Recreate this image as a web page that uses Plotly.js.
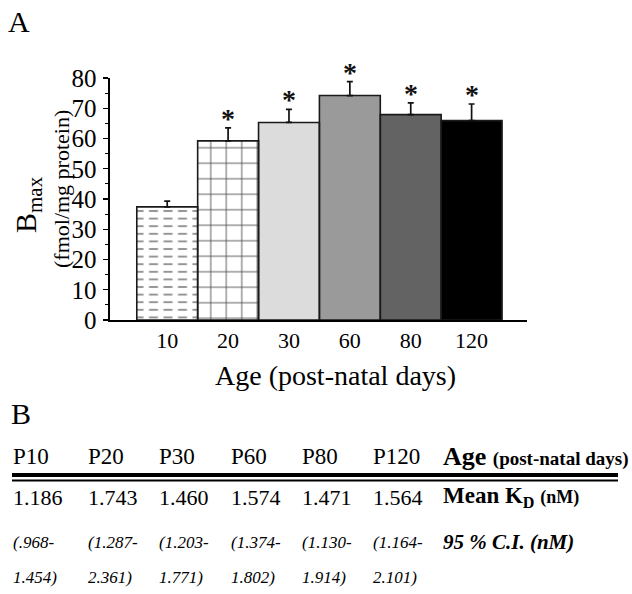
<!DOCTYPE html>
<html><head><meta charset="utf-8">
<script src="https://cdn.plot.ly/plotly-3.0.1.min.js"></script>
<style>html,body{margin:0;padding:0;background:#fff}#chart{width:632px;height:594px}</style>
</head><body><div id="chart"></div>
<script>
// ---- data ----
const ages = ['10', '20', '30', '60', '80', '120'];
const bmax = [37.4, 59.2, 65.3, 74.2, 67.9, 65.9];
const bmaxErr = [1.9, 4.3, 4.3, 4.6, 3.9, 5.5];
const significant = [false, true, true, true, true, true];
const tableAges = ['P10', 'P20', 'P30', 'P60', 'P80', 'P120'];
const meanKd = ['1.186', '1.743', '1.460', '1.574', '1.471', '1.564'];
const ciLow = ['.968', '1.287', '1.203', '1.374', '1.130', '1.164'];
const ciHigh = ['1.454', '2.361', '1.771', '1.802', '1.914', '2.101'];

// ---- styles ----
const FONT = 'Liberation Serif, Times New Roman, serif';
const fills = ['#ffffff', '#ffffff', '#dcdcdc', '#9a9a9a', '#636363', '#000000'];
const patterns = [
  { shape: '-', fgcolor: '#959595', size: 7.6, solidity: 0.26 },
  { shape: '+', fgcolor: '#4a4a4a', size: 15.5, solidity: 0.11 },
  null, null, null, null
];
const cutters = [
  { shape: '|', fgcolor: '#ffffff', bgcolor: 'rgba(0,0,0,0)', size: 14.5, solidity: 0.38 },
  null, null, null, null, null
];

// plot area in pixels: x 110..527, y 78..320
const L = 110, R = 527, T = 78, B = 320;
const PX = v => (v - L) / (R - L);
const PY = v => (B - v) / (B - T);

const traces = [];
ages.forEach((a, i) => {
  const m = { color: fills[i], line: { width: 0 } };
  if (patterns[i]) m.pattern = patterns[i];
  traces.push({ type: 'bar', x: [a], y: [bmax[i]], hoverinfo: 'skip', marker: m });
});
ages.forEach((a, i) => {
  if (cutters[i]) traces.push({ type: 'bar', x: [a], y: [bmax[i]], hoverinfo: 'skip',
    marker: { color: 'rgba(0,0,0,0)', line: { width: 0 }, pattern: cutters[i] } });
});
traces.push({ type: 'bar', x: ages, y: bmax, hoverinfo: 'skip',
  marker: { color: 'rgba(0,0,0,0)', line: { color: '#1a1a1a', width: 1.6 } },
  error_y: { type: 'data', symmetric: false, array: bmaxErr, arrayminus: bmaxErr.map(() => 0),
    color: '#111', thickness: 1.7, width: 3 } });

const ann = [];
ages.forEach((a, i) => {
  if (significant[i]) ann.push({ x: i, y: bmax[i] + bmaxErr[i], xref: 'x', yref: 'y', text: '<b>*</b>',
    showarrow: false, yanchor: 'bottom', font: { family: FONT, size: 28, color: '#111' }, yshift: -8 });
});
function txt(px, py, text, size, extra) {
  ann.push(Object.assign({ xref: 'paper', yref: 'paper', x: PX(px), y: PY(py), text: text,
    showarrow: false, xanchor: 'left', yanchor: 'middle',
    font: { family: FONT, size: size, color: '#000' } }, extra || {}));
}
// panel labels and axis titles
txt(6, 21, 'A', 30);
txt(9, 413, 'B', 30);
txt(28, 205, 'B<sub>max</sub>', 30, { xanchor: 'center', textangle: -90 });
txt(61, 189, '(fmol/mg protein)', 22, { xanchor: 'center', textangle: -90 });
txt(335, 375, 'Age (post-natal days)', 28, { xanchor: 'center' });

// table B
const colX = [11, 86, 157, 229, 300, 371];
const labX = 441;
const yHead = 456, yKd = 497, yCi1 = 542, yCi2 = 577;
tableAges.forEach((t, i) => txt(colX[i], yHead, t, 23));
meanKd.forEach((t, i) => txt(colX[i], yKd, t, 22));
ciLow.forEach((t, i) => txt(colX[i], yCi1, '<i>(' + t + '-</i>', 17));
ciHigh.forEach((t, i) => txt(colX[i], yCi2, '<i>' + t + ')</i>', 17));
txt(labX, yHead, '<b>Age <span style="font-size:19px">(post-natal days)</span></b>', 26);
txt(labX, yKd, '<b>Mean K<sub>D</sub> <span style="font-size:18px">(nM)</span></b>', 23);
txt(labX, yCi1, '<b><i>95 % C.I. (nM)</i></b>', 21);

const shapes = [
  { type: 'line', xref: 'paper', yref: 'paper', x0: PX(12), x1: PX(618), y0: PY(475), y1: PY(475), line: { color: '#000', width: 4 } },
  { type: 'line', xref: 'paper', yref: 'paper', x0: PX(12), x1: PX(618), y0: PY(480.5), y1: PY(480.5), line: { color: '#000', width: 2 } }
];

const layout = {
  width: 632, height: 594,
  margin: { l: L, r: 632 - R, t: T, b: 594 - B },
  paper_bgcolor: '#fff', plot_bgcolor: '#fff',
  showlegend: false, barmode: 'overlay', bargap: 0,
  font: { family: FONT, color: '#000' },
  xaxis: { type: 'category', range: [-0.94, 5.91], showline: true, linecolor: '#000', linewidth: 1.6,
    ticks: '', showgrid: false, zeroline: false, tickfont: { family: FONT, size: 22, color: '#000' },
    fixedrange: true },
  yaxis: { range: [0, 80], tickvals: [0, 10, 20, 30, 40, 50, 60, 70, 80], ticks: 'outside', ticklen: 5, tickwidth: 1.2,
    tickcolor: '#000', showline: true, linecolor: '#000', linewidth: 1.6, showgrid: false, zeroline: false,
    ticklabelstandoff: 2,
    minor: { tickvals: [5, 15, 25, 35, 45, 55, 65, 75], ticks: 'outside', ticklen: 3, tickwidth: 1, tickcolor: '#000', showgrid: false },
    tickfont: { family: FONT, size: 25, color: '#000' }, fixedrange: true },
  annotations: ann, shapes: shapes
};

Plotly.newPlot('chart', traces, layout, { staticPlot: true, displayModeBar: false });
</script>
</body></html>
